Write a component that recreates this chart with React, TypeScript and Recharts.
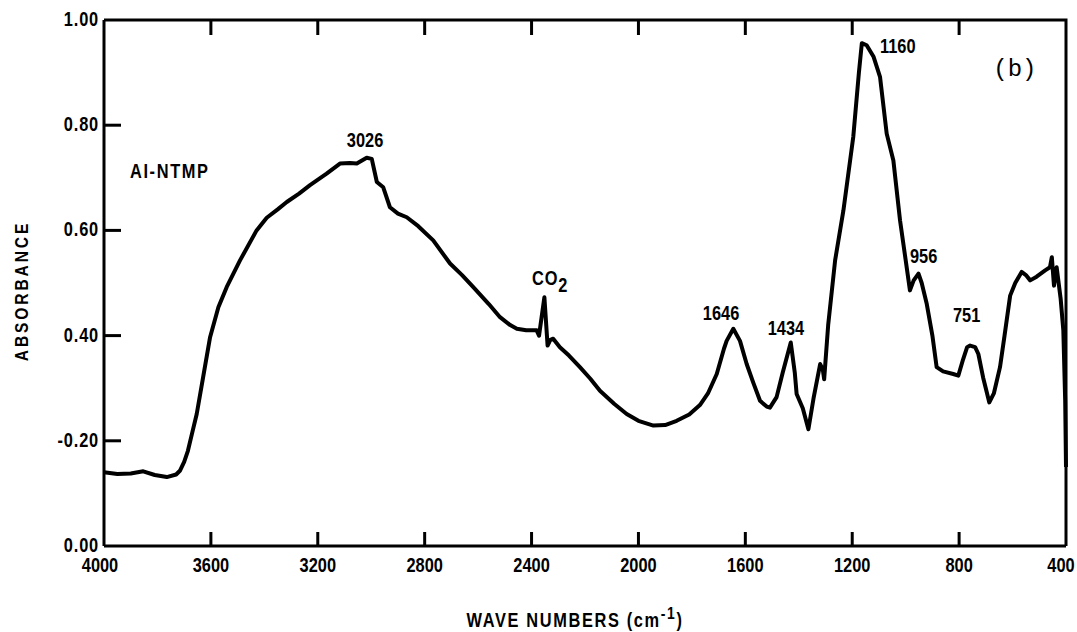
import React from 'react'
import { LineChart, Line, XAxis, YAxis, ReferenceDot } from 'recharts'

// IR spectrum, absorbance vs. wave number (cm-1), read high to low
const waveNumbers = [
  4000, 3950, 3900, 3853, 3810, 3765, 3730, 3716, 3700, 3686, 3670, 3653, 3629, 3603, 3572, 3541,
  3491, 3429, 3391, 3350, 3316, 3270, 3229, 3167, 3117, 3080, 3054, 3017, 2998, 2979, 2955, 2930,
  2900, 2867, 2824, 2768, 2705, 2660, 2618, 2560, 2518, 2480, 2455, 2420, 2381, 2372, 2352, 2340,
  2330, 2319, 2294, 2260, 2219, 2180, 2144, 2090, 2044, 2000, 1944, 1900, 1857, 1810, 1770, 1740,
  1707, 1680, 1670, 1645, 1620, 1595, 1570, 1545, 1520, 1508, 1483, 1460, 1430, 1415, 1408, 1385,
  1364, 1345, 1320, 1310, 1305, 1290, 1264, 1233, 1196, 1175, 1164, 1146, 1120, 1096, 1071, 1046,
  1021, 984, 970, 952, 940, 921, 900, 884, 860, 822, 803, 785, 770, 759, 740, 728,
  710, 687, 670, 647, 630, 609, 590, 566, 550, 534, 510, 478, 460, 453, 445, 435,
  420, 410, 403, 400,
]
const absorbance = [
  0.140, 0.137, 0.138, 0.142, 0.135, 0.131, 0.136, 0.143, 0.160, 0.181, 0.215, 0.251, 0.321, 0.397, 0.454, 0.492,
  0.543, 0.600, 0.624, 0.640, 0.654, 0.670, 0.686, 0.708, 0.727, 0.728, 0.727, 0.738, 0.736, 0.692, 0.682, 0.644,
  0.632, 0.625, 0.608, 0.581, 0.537, 0.515, 0.492, 0.460, 0.435, 0.420, 0.413, 0.410, 0.410, 0.400, 0.473, 0.381,
  0.392, 0.394, 0.378, 0.362, 0.340, 0.318, 0.295, 0.270, 0.251, 0.238, 0.229, 0.230, 0.238, 0.250, 0.268, 0.290,
  0.327, 0.375, 0.390, 0.413, 0.390, 0.346, 0.310, 0.276, 0.265, 0.263, 0.283, 0.330, 0.387, 0.330, 0.289, 0.262,
  0.222, 0.280, 0.346, 0.335, 0.317, 0.420, 0.543, 0.638, 0.778, 0.900, 0.956, 0.952, 0.930, 0.892, 0.784, 0.733,
  0.619, 0.486, 0.505, 0.518, 0.500, 0.460, 0.400, 0.340, 0.332, 0.327, 0.324, 0.355, 0.378, 0.381, 0.378, 0.365,
  0.320, 0.273, 0.290, 0.340, 0.400, 0.476, 0.500, 0.521, 0.515, 0.505, 0.512, 0.524, 0.530, 0.549, 0.495, 0.530,
  0.470, 0.410, 0.276, 0.150,
]

const xTicks = [4000, 3600, 3200, 2800, 2400, 2000, 1600, 1200, 800, 400]
const yTicks = [0, 0.2, 0.4, 0.6, 0.8, 1.0]
// printed as on the original plot, including the stray minus sign
const yTickLabels = ['0.00', '-0.20', '0.40', '0.60', '0.80', '1.00']

type Note = { text: string; wn: number; a: number; anchor: 'start' | 'middle' | 'end' }
const notes: Note[] = [
  { text: 'AI-NTMP', wn: 3903, a: 0.700, anchor: 'start' },
  { text: '3026', wn: 3023, a: 0.759, anchor: 'middle' },
  { text: 'CO2', wn: 2398, a: 0.496, anchor: 'start' },
  { text: '1646', wn: 1691, a: 0.430, anchor: 'middle' },
  { text: '1434', wn: 1448, a: 0.401, anchor: 'middle' },
  { text: '1160', wn: 1096, a: 0.937, anchor: 'start' },
  { text: '956', wn: 984, a: 0.538, anchor: 'start' },
  { text: '751', wn: 823, a: 0.426, anchor: 'start' },
  { text: '(b)', wn: 672, a: 0.894, anchor: 'start' },
]

const data = waveNumbers.map((wn, i) => ({ wn, a: absorbance[i] }))

const FONT = "'Liberation Sans', Arial, sans-serif"
const INK = 'black'
const PLOT_TOP = 20

// condensed bold lettering: a squeezed Liberation Sans Bold
const Narrow = ({ x, y, anchor = 'start', size = 20, spacing = 0, rotate = 0, children }: any) => (
  <text
    transform={`translate(${x} ${y})${rotate ? ` rotate(${rotate})` : ''} scale(0.82 1)`}
    textAnchor={anchor}
    fontFamily={FONT}
    fontWeight="bold"
    fontSize={size}
    letterSpacing={spacing}
    fill={INK}
  >
    {children}
  </text>
)

// bottom label plus inward ticks on both the bottom and the top edge
const BottomTick = (props: any) => {
  const { x, y, payload } = props
  const v = payload.value
  const inner = v !== 4000 && v !== 400
  const shift = v === 4000 ? -4 : v === 400 ? -5 : 0
  return (
    <g>
      {inner ? <line x1={x} y1={y} x2={x} y2={y - 14} stroke="black" strokeWidth={3} /> : null}
      {inner ? <line x1={x} y1={PLOT_TOP} x2={x} y2={PLOT_TOP + 15} stroke="black" strokeWidth={3} /> : null}
      <Narrow x={x + shift} y={y + 26} anchor="middle">{v}</Narrow>
    </g>
  )
}

const LeftTick = (props: any) => {
  const { x, y, payload, index } = props
  const v = payload.value
  const inner = v > 0 && v < 1
  return (
    <g>
      {inner ? <line x1={x} y1={y} x2={x + 17} y2={y} stroke="black" strokeWidth={3} /> : null}
      <Narrow x={x - 5} y={y + 6} anchor="end" spacing={1}>{yTickLabels[index]}</Narrow>
    </g>
  )
}

const noteContent = (n: Note) => (props: any) => {
  const { x, y } = props.viewBox
  if (n.text === 'CO2') {
    return (
      <Narrow x={x} y={y} spacing={1}>
        CO<tspan dy={7}>2</tspan>
      </Narrow>
    )
  }
  if (n.text === '(b)') {
    return (
      <text x={x} y={y} fontFamily="'Liberation Mono', monospace" fontSize={24} fill={INK}>
        {n.text}
      </text>
    )
  }
  return (
    <Narrow x={x} y={y} anchor={n.anchor} spacing={n.text === 'AI-NTMP' ? 2 : 0}>
      {n.text}
    </Narrow>
  )
}

const YTitle = (props: any) => {
  const { viewBox } = props
  return (
    <Narrow x={viewBox.x + 28} y={291} anchor="middle" size={19} spacing={3.5} rotate={-90}>
      ABSORBANCE
    </Narrow>
  )
}

// axis title, and the top and right sides of the frame
const XTitle = (props: any) => {
  const { viewBox } = props
  const left = viewBox.x
  const right = viewBox.x + viewBox.width
  const bottom = viewBox.y
  return (
    <g>
      <path d={`M${left},${PLOT_TOP}H${right}V${bottom}`} fill="none" stroke="black" strokeWidth={3} />
      <Narrow x={left + 471} y={bottom + 81} anchor="middle" spacing={2}>
        WAVE NUMBERS (cm<tspan dy={-8} fontSize={17}>-1</tspan><tspan dy={8}>)</tspan>
      </Narrow>
    </g>
  )
}

export default function App() {
  return (
    <div style={{ position: 'absolute', left: 0, top: 0, background: '#fff' }}>
      <LineChart width={1077} height={632} data={data} margin={{ top: PLOT_TOP, right: 11, left: 0, bottom: 0 }}>
        <XAxis
          dataKey="wn"
          type="number"
          domain={[400, 4000]}
          reversed
          ticks={xTicks}
          interval={0}
          height={86}
          tickSize={0}
          tickMargin={0}
          tickLine={false}
          axisLine={{ stroke: INK, strokeWidth: 3 }}
          tick={<BottomTick />}
          label={<XTitle />}
        />
        <YAxis
          type="number"
          domain={[0, 1]}
          ticks={yTicks}
          interval={0}
          width={104}
          tickSize={0}
          tickMargin={0}
          tickLine={false}
          axisLine={{ stroke: INK, strokeWidth: 3 }}
          tick={<LeftTick />}
          label={<YTitle />}
        />
        <Line
          type="linear"
          dataKey="a"
          stroke={INK}
          strokeWidth={4}
          strokeLinejoin="round"
          dot={false}
          isAnimationActive={false}
        />
        {notes.map((n) => (
          <ReferenceDot
            key={n.text}
            x={n.wn}
            y={n.a}
            r={0}
            fill="none"
            stroke="none"
            ifOverflow="visible"
            label={noteContent(n)}
          />
        ))}
      </LineChart>
    </div>
  )
}
